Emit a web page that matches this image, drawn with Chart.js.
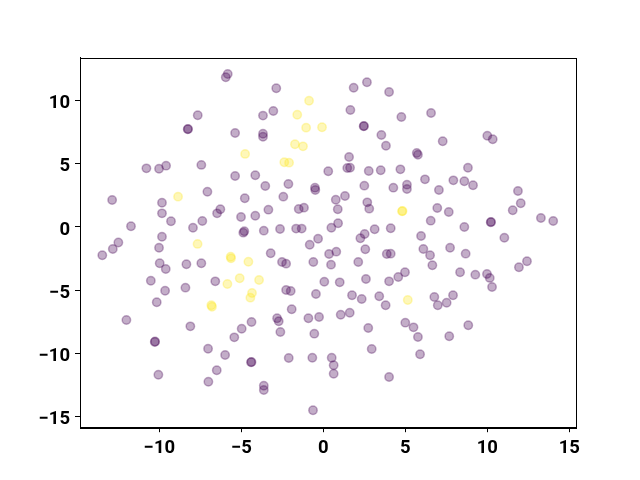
<!DOCTYPE html>
<html>
<head>
<meta charset="utf-8">
<script src="https://cdn.jsdelivr.net/npm/chart.js@4/dist/chart.umd.min.js"></script>
<style>
  html, body { margin: 0; padding: 0; background: #fff; }
  #wrap { width: 640px; height: 480px; }
</style>
</head>
<body>
<div id="wrap"><canvas id="scatter" width="640" height="480"></canvas></div>
<script>
// purple points (class 0)
const purpleX = [
  -5.83, -5.95, -7.66, -8.27, -8.25, -5.38, -10.79, -10.02, -9.59, -7.44,
  -5.38, -12.88, -9.84, -7.07, -4.79, -9.84, -9.29, -11.73, -7.95, -7.38,
  -6.48, -6.28, -5.02, -4.88, -4.82, -9.84, -12.50, -10.02, -12.84, -13.48,
  -9.98, -9.61, -8.35, -7.44, -10.52, -9.65, -8.41, -6.59, -10.16, -12.01,
  -8.11, -4.38, -4.98, -5.43, -10.28, -10.26, -7.03, -5.99, -4.41, -4.38,
  -6.50, -10.06, -7.01,
  -2.87, 1.85, 2.66, 4.01, -3.05, -3.68, 1.65, 4.76, 2.46, 2.48,
  -3.68, -3.68, 3.54, 3.82, 1.57, 1.46, 1.63, 0.30, 2.77, 3.50,
  4.70, -4.15, -3.54, -2.13, -0.51, -0.49, 2.50, 4.27, 5.10, 5.10,
  -2.44, 0.76, 1.32, 2.68, 2.80, -1.50, -1.18, 0.88, -3.35, -4.15,
  -3.63, -2.64, -1.66, -1.32, 0.49, 0.90, 2.52, 2.26, 3.13, 4.11,
  -0.32,
  -0.83, 2.56, 3.87, 4.11, -3.21, -2.52, -2.27, -0.61, 0.35, 0.79,
  0.47, 2.13, -2.27, -1.99, 0.06, 1.00, 2.60, 4.01, 4.57, 4.98,
  -0.45, 1.75, 2.34, 3.41, 3.80, -1.93, -2.82, -2.72, -2.62, -0.91,
  -0.26, -0.55, 1.06, 1.61, 2.74, 5.00, 5.50, 2.95, -2.11, -0.67,
  0.51, 0.63, 0.63, 4.01, -3.63, -3.63, -0.63,
  6.57, 7.28, 10.00, 10.33, 5.70, 5.77, 8.82, 6.20, 7.93, 8.60,
  9.13, 7.05, 11.87, 12.04, 11.55, 6.95, 7.65, 6.55, 8.60, 10.21,
  10.23, 13.27, 14.02, 5.96, 11.04,
  7.73, 8.68, 6.10, 6.51, 6.65, 8.34, 9.27, 9.98, 10.15, 10.29,
  11.93, 12.42, 6.77, 6.98, 7.52, 7.91, 5.77, 7.68, 8.84, 5.90
];
const purpleY = [
  12.10, 11.84, 8.84, 7.73, 7.75, 7.44, 4.64, 4.61, 4.85, 4.91,
  4.03, 2.14, 1.92, 2.79, 2.27, 1.08, 0.45, 0.06, -0.06, 0.47,
  1.08, 1.40, 0.79, -0.45, -0.34, -0.77, -1.23, -1.64, -1.74, -2.24,
  -2.87, -3.32, -2.95, -2.87, -4.25, -5.04, -4.80, -4.30, -5.96, -7.36,
  -7.86, -7.52, -8.05, -8.73, -9.10, -9.06, -9.63, -10.13, -10.70, -10.68,
  -11.34, -11.69, -12.24,
  10.97, 11.02, 11.45, 10.68, 9.18, 8.81, 9.26, 8.70, 7.97, 7.99,
  7.38, 7.14, 7.28, 6.43, 5.54, 4.67, 4.69, 4.41, 4.43, 4.49,
  4.56, 4.09, 3.24, 3.40, 3.11, 2.93, 3.27, 3.11, 3.35, 3.01,
  2.40, 2.16, 2.45, 1.95, 1.45, 1.42, 1.53, 1.40, 1.37, 0.89,
  -0.29, -0.16, -0.13, -0.13, -0.06, 0.29, -0.55, -0.89, -0.18, -0.10,
  -0.93,
  -1.40, -1.76, -2.14, -2.11, -2.08, -2.77, -2.90, -2.77, -2.14, -1.95,
  -2.98, -2.77, -4.98, -5.06, -4.33, -4.38, -4.11, -4.30, -3.96, -3.58,
  -5.30, -5.40, -5.70, -5.48, -6.19, -6.51, -7.22, -7.46, -8.31, -7.22,
  -7.12, -8.44, -6.94, -6.78, -7.99, -7.57, -7.94, -9.65, -10.36, -10.34,
  -10.34, -10.94, -11.61, -11.87, -12.56, -12.90, -14.50,
  9.02, 6.78, 7.22, 6.94, 5.85, 5.72, 4.69, 3.77, 3.69, 3.62,
  3.30, 2.93, 2.85, 1.88, 1.32, 1.50, 1.19, 0.50, 0.00, 0.37,
  0.40, 0.71, 0.47, -0.71, -0.85,
  -1.64, -2.11, -1.74, -2.24, -3.03, -3.58, -3.77, -3.72, -4.03, -4.75,
  -3.19, -2.71, -5.54, -6.19, -5.99, -5.40, -8.70, -8.65, -7.78, -10.07
];
// yellow points (class 1)
const yellowX = [
  -4.77, -8.86, -7.67, -5.65, -5.63, -4.57, -5.85, -5.10, -4.35, -4.45,
  -6.83, -6.79, -0.87, -1.59, -1.05, -0.08, -1.73, -1.24, -2.38, -2.09,
  4.80, 4.83, -3.92, 5.15
];
const yellowY = [
  5.78, 2.40, -1.34, -2.35, -2.48, -2.75, -4.51, -4.06, -5.22, -5.59,
  -6.19, -6.31, 9.99, 8.88, 7.86, 7.89, 6.54, 6.38, 5.12, 5.09,
  1.24, 1.27, -4.19, -5.78
];
const xTicks = [-10, -5, 0, 5, 10, 15];
const yTicks = [-15, -10, -5, 0, 5, 10];

const toPoints = (xs, ys) => xs.map((x, i) => ({ x: x, y: ys[i] }));
const fmt = (v) => (v < 0 ? "\u2212" + Math.abs(v) : String(v));

// matplotlib style frame round the plot area
const frame = {
  id: "frame",
  afterDraw(chart) {
    const a = chart.chartArea, c = chart.ctx;
    c.save();
    c.strokeStyle = "#000";
    c.lineWidth = 1;
    c.strokeRect(Math.round(a.left) + 0.5, Math.round(a.top) + 0.5,
                 Math.round(a.right - a.left), Math.round(a.bottom - a.top));
    c.restore();
  }
};

const tickFont = { family: "Roboto", size: 18.5, weight: "bold" };

new Chart(document.getElementById("scatter").getContext("2d"), {
  type: "scatter",
  data: {
    datasets: [
      {
        data: toPoints(purpleX, purpleY),
        backgroundColor: "rgba(68,1,84,0.32)",
        borderColor: "rgba(68,1,84,0.32)",
        borderWidth: 1.5,
        pointRadius: 4.2,
      },
      {
        data: toPoints(yellowX, yellowY),
        backgroundColor: "rgba(253,231,37,0.32)",
        borderColor: "rgba(253,231,37,0.32)",
        borderWidth: 1.5,
        pointRadius: 4.2,
      },
    ],
  },
  options: {
    responsive: false,
    animation: false,
    layout: { padding: { top: 57.6, right: 64, left: 0, bottom: 0 } },
    plugins: { legend: { display: false }, tooltip: { enabled: false } },
    scales: {
      x: {
        type: "linear",
        min: -14.84,
        max: 15.41,
        afterBuildTicks: (s) => { s.ticks = xTicks.map(v => ({ value: v })); },
        afterFit: (s) => { s.height = 52.8; },
        grid: { drawOnChartArea: false, drawTicks: true, tickLength: 5, tickColor: "#000" },
        border: { display: true, color: "#000" },
        ticks: { color: "#000", font: tickFont, padding: 5, maxRotation: 0, callback: fmt },
      },
      y: {
        type: "linear",
        min: -15.84,
        max: 13.40,
        afterBuildTicks: (s) => { s.ticks = yTicks.map(v => ({ value: v })); },
        afterFit: (s) => { s.width = 80; },
        grid: { drawOnChartArea: false, drawTicks: true, tickLength: 5, tickColor: "#000" },
        border: { display: true, color: "#000" },
        ticks: { color: "#000", font: tickFont, padding: 5, labelOffset: 3, callback: fmt },
      },
    },
  },
  plugins: [frame],
});
</script>
</body>
</html>
